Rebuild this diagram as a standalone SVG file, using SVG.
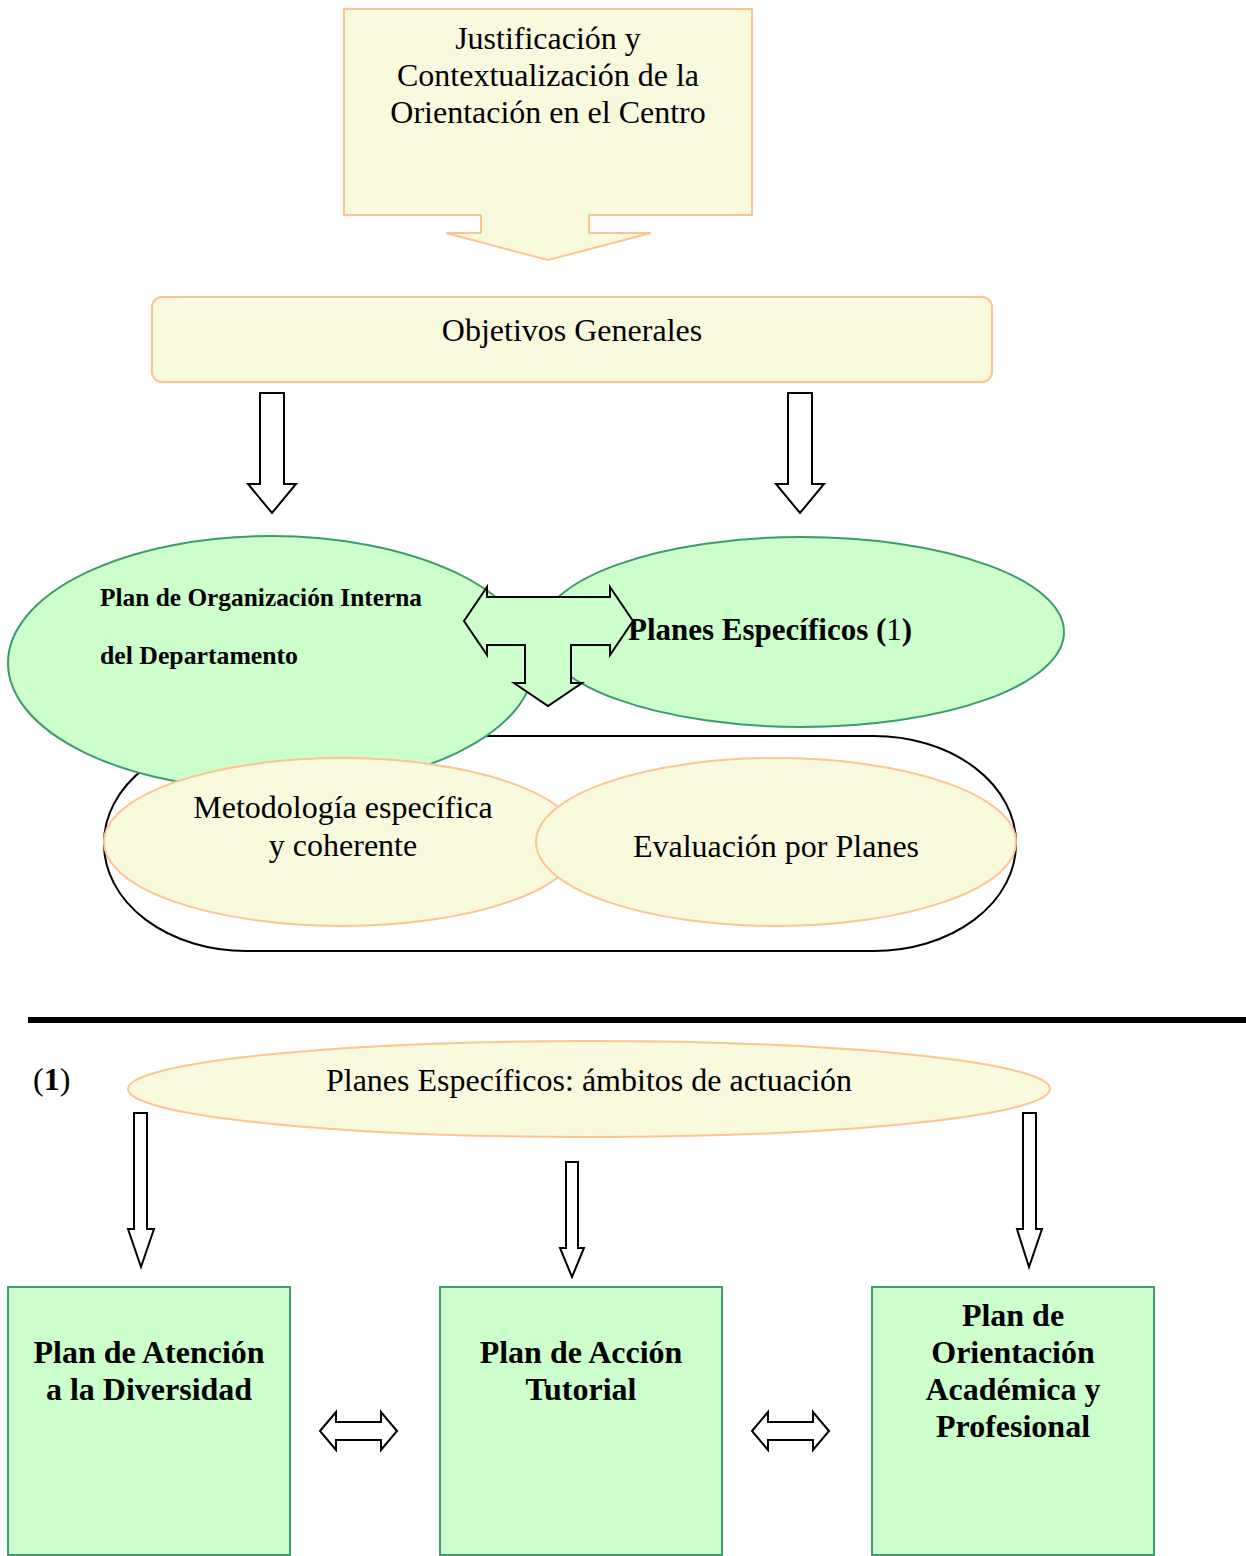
<svg xmlns="http://www.w3.org/2000/svg" width="1246" height="1556" viewBox="0 0 1246 1556">
<style>
  .t { font-family: "Liberation Serif", "Times New Roman", serif; font-size: 32px; fill: #000; }
  .s { font-size: 25px; }
  .m { font-size: 31px; }
  .c { text-anchor: middle; }
  .b { font-weight: bold; }
  .yel { fill: #f9f9de; stroke: #fbc590; stroke-width: 2; }
  .grn { fill: #ccffcc; stroke: #3c9c6c; stroke-width: 2; }
  .arr { fill: #ffffff; stroke: #000; stroke-width: 2; stroke-linejoin: miter; }
  .arrg { fill: #ccffcc; stroke: #000; stroke-width: 2; stroke-linejoin: miter; }
</style>
<rect width="1246" height="1556" fill="#ffffff"/>

<g id="justificacion">
  <polygon class="yel" points="344,9 752,9 752,215 589,215 589,233 651,233 548,260 446,233 481,233 481,215 344,215"/>
  <text class="t c" x="548" y="49">Justificación y</text>
  <text class="t c" x="548" y="86">Contextualización de la</text>
  <text class="t c" x="548" y="123">Orientación en el Centro</text>
</g>

<g id="objetivos">
  <rect class="yel" x="152" y="297" width="840" height="85" rx="10"/>
  <text class="t c" x="572" y="341">Objetivos Generales</text>
</g>

<g id="contenedor">
  <rect x="104" y="736" width="912" height="215" rx="142" ry="107" fill="none" stroke="#000" stroke-width="2"/>
</g>

<g id="plan-organizacion">
  <ellipse class="grn" cx="271" cy="663" rx="263" ry="127"/>
  <text class="t s b" x="100" y="606" textLength="322" lengthAdjust="spacingAndGlyphs">Plan de Organización Interna</text>
  <text class="t s b" x="100" y="664" textLength="198" lengthAdjust="spacingAndGlyphs">del Departamento</text>
</g>

<g id="planes-especificos">
  <ellipse class="grn" cx="802" cy="632" rx="262" ry="95"/>
  <text class="t m b" x="628" y="640">Planes Específicos (<tspan font-weight="normal">1</tspan>)</text>
</g>

<g id="metodologia">
  <ellipse class="yel" cx="342" cy="842" rx="238" ry="84"/>
  <text class="t c" x="343" y="818">Metodología específica</text>
  <text class="t c" x="343" y="856">y coherente</text>
</g>

<g id="evaluacion">
  <ellipse class="yel" cx="776" cy="842" rx="240" ry="84"/>
  <text class="t c" x="776" y="857">Evaluación por Planes</text>
</g>

<g id="separador">
  <rect x="28" y="1017" width="1218" height="6" fill="#000"/>
  <text class="t" x="33" y="1090">(<tspan font-weight="bold">1</tspan>)</text>
</g>

<g id="ambitos">
  <ellipse class="yel" cx="589" cy="1089" rx="461" ry="48"/>
  <text class="t c" x="589" y="1091">Planes Específicos: ámbitos de actuación</text>
</g>

<g id="plan-atencion">
  <rect class="grn" x="8" y="1287" width="282" height="268"/>
  <text class="t b c" x="149" y="1363">Plan de Atención</text>
  <text class="t b c" x="149" y="1400">a la Diversidad</text>
</g>

<g id="plan-accion">
  <rect class="grn" x="440" y="1287" width="282" height="268"/>
  <text class="t b c" x="581" y="1363">Plan de Acción</text>
  <text class="t b c" x="581" y="1400">Tutorial</text>
</g>

<g id="plan-orientacion">
  <rect class="grn" x="872" y="1287" width="282" height="268"/>
  <text class="t b c" x="1013" y="1326">Plan de</text>
  <text class="t b c" x="1013" y="1363">Orientación</text>
  <text class="t b c" x="1013" y="1400">Académica y</text>
  <text class="t b c" x="1013" y="1437">Profesional</text>
</g>

<g id="conectores">
  <polygon class="arr" points="260,393 284,393 284,484 296,484 272,513 248,484 260,484"/>
  <polygon class="arr" points="788,393 812,393 812,484 824,484 800,513 776,484 788,484"/>
  <polygon class="arrg" points="464,621 487,587 487,597 610,597 610,587 633,621 610,655 610,645 571,645 571,683 582,683 548,706 514,683 525,683 525,645 487,645 487,655"/>
  <polygon class="arr" points="134,1113 147,1113 147,1229 154,1229 141,1267 128,1229 134,1229"/>
  <polygon class="arr" points="566,1162 578,1162 578,1248 584,1248 572,1277 560,1248 566,1248"/>
  <polygon class="arr" points="1023,1113 1036,1113 1036,1229 1042,1229 1029,1267 1017,1229 1023,1229"/>
  <polygon class="arr" points="320,1431 336,1412 336,1422 381,1422 381,1412 397,1431 381,1450 381,1440 336,1440 336,1450"/>
  <polygon class="arr" points="752,1431 768,1412 768,1422 813,1422 813,1412 829,1431 813,1450 813,1440 768,1440 768,1450"/>
</g>
</svg>
